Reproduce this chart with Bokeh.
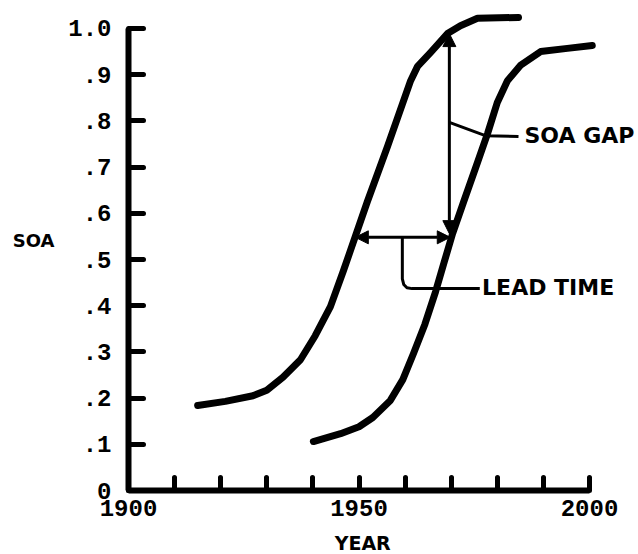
from bokeh.plotting import figure
from bokeh.models import Arrow, NormalHead, Label, FixedTicker
from bokeh.core.properties import value
from bokeh.embed import file_html
from bokeh.resources import INLINE

# ---- data ----
left_year = [1915, 1921, 1927, 1930, 1933.5, 1937.3, 1940.5, 1943.8, 1946.6, 1949.2,
             1951.8, 1956.2, 1961.2, 1962.7, 1965.5, 1969.2, 1972, 1975.7, 1984.6]
left_soa = [0.184, 0.193, 0.205, 0.217, 0.245, 0.283, 0.335, 0.398, 0.475, 0.55,
            0.625, 0.745, 0.887, 0.918, 0.948, 0.989, 1.006, 1.022, 1.024]

right_year = [1940.1, 1946, 1950, 1953, 1956.8, 1959.5, 1961.8, 1964.3, 1966.6, 1968.5,
              1970.3, 1972.7, 1975.7, 1977.9, 1980, 1982.2, 1985, 1989.4, 1995.2, 2000.6]
right_soa = [0.106, 0.123, 0.138, 0.158, 0.195, 0.24, 0.296, 0.36, 0.43, 0.495,
             0.556, 0.625, 0.71, 0.773, 0.84, 0.887, 0.92, 0.95, 0.957, 0.963]

y_ticks = [0, 0.1, 0.2, 0.3, 0.4, 0.5, 0.6, 0.7, 0.8, 0.9, 1.0]
y_tick_labels = ["0", ".1", ".2", ".3", ".4", ".5", ".6", ".7", ".8", ".9", "1.0"]
x_ticks = [1900, 1910, 1920, 1930, 1940, 1950, 1960, 1970, 1980, 1990, 2000]
x_tick_labels = ["1900", "", "", "", "", "1950", "", "", "", "", "2000"]

# SOA gap (vertical double arrow)
gap_year = 1969.6
gap_low = 0.556
gap_high = 0.989
# lead time (horizontal double arrow)
lead_soa = 0.548
lead_start = 1949.2
lead_end = 1969.8

# callout leaders and texts
lead_leader_year = [1959.4, 1959.4, 1959.7, 1960.4, 1961.5, 1976.2]
lead_leader_soa = [0.548, 0.458, 0.446, 0.439, 0.437, 0.437]
gap_leader_year = [1969.6, 1977.4, 1984.6]
gap_leader_soa = [0.797, 0.768, 0.766]
note_text = ["SOA GAP", "LEAD TIME"]
note_year = [1985.9, 1976.7]
note_soa = [0.768, 0.439]

# ---- figure: frame covers the canvas, axes drawn at fixed locations ----
p = figure(width=638, height=554, x_range=(1872.23, 2010.63), y_range=(-0.1385, 1.0606),
           output_backend="svg", toolbar_location=None,
           min_border_left=0, min_border_right=0, min_border_top=0, min_border_bottom=0)
p.title.visible = False
p.grid.visible = False
p.outline_line_color = None
p.background_fill_color = "white"
p.border_fill_color = "white"

mono = "Liberation Mono"
for ax in (p.xaxis[0], p.yaxis[0]):
    ax.axis_line_width = 6
    ax.axis_line_color = "black"
    ax.major_tick_line_width = 5
    ax.major_tick_line_color = "black"
    ax.major_tick_line_cap = "round"
    ax.minor_tick_line_color = None
    ax.major_tick_out = 0
    ax.major_label_text_font = mono
    ax.major_label_text_font_style = "bold"
    ax.major_label_text_font_size = "24px"
    ax.major_label_text_color = "black"

p.yaxis[0].fixed_location = 1900
p.yaxis[0].ticker = FixedTicker(ticks=y_ticks)
p.yaxis[0].major_label_overrides = dict(zip(y_ticks, y_tick_labels))
p.yaxis[0].major_tick_in = 15
p.yaxis[0].major_label_standoff = 17
p.yaxis[0].bounds = (0, 1.0)

p.xaxis[0].fixed_location = 0
p.xaxis[0].ticker = FixedTicker(ticks=x_ticks)
p.xaxis[0].major_label_overrides = dict(zip(x_ticks, x_tick_labels))
p.xaxis[0].major_tick_in = 13
p.xaxis[0].major_label_standoff = 9
p.xaxis[0].bounds = (1900, 2000)

# curves
p.line(left_year, left_soa, line_width=7, line_color="black",
       line_cap="round", line_join="round")
p.line(right_year, right_soa, line_width=7, line_color="black",
       line_cap="round", line_join="round")

# leaders
p.line(lead_leader_year, lead_leader_soa, line_width=3, line_color="black", line_join="round")
p.line(gap_leader_year, gap_leader_soa, line_width=3, line_color="black", line_join="round")

# arrows
def head():
    return NormalHead(size=13, fill_color="black", line_color="black", line_width=1)

p.add_layout(Arrow(x_start=gap_year, y_start=gap_low, x_end=gap_year, y_end=gap_high,
                   start=head(), end=head(), line_width=3, line_color="black"))
p.add_layout(Arrow(x_start=lead_start, y_start=lead_soa, x_end=lead_end, y_end=lead_soa,
                   start=head(), end=head(), line_width=3, line_color="black"))

# callout texts
p.text(x=note_year, y=note_soa, text=note_text, text_font=value("DejaVu Sans"),
       text_font_style="bold", text_font_size="22px", text_color="black",
       text_align="left", text_baseline="middle")

# axis titles
p.add_layout(Label(x=1879.4, y=0.541, text="SOA", text_font="DejaVu Sans",
                   text_font_style="bold", text_font_size="18px", text_color="black",
                   text_align="center", text_baseline="middle"))
p.add_layout(Label(x=1950.8, y=-0.114, text="YEAR", text_font="DejaVu Sans",
                   text_font_style="bold", text_font_size="19px", text_color="black",
                   text_align="center", text_baseline="middle"))

open("out.html", "w").write(file_html(p, INLINE))
